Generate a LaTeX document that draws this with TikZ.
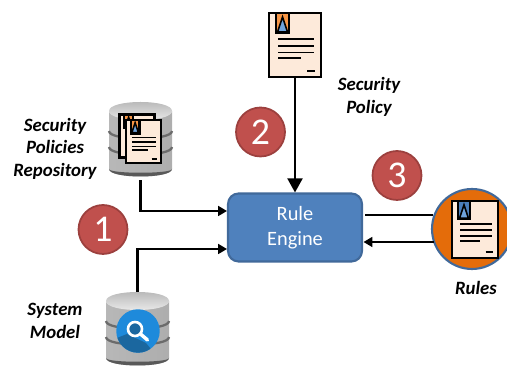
\documentclass[tikz,border=0pt]{standalone}
\usepackage{fontspec}
\setmainfont{Carlito}
\usetikzlibrary{arrows.meta}
\definecolor{enginefill}{HTML}{4F81BD}
\definecolor{engineedge}{HTML}{41699A}
\definecolor{badgefill}{HTML}{C0504D}
\definecolor{badgeedge}{HTML}{9C403E}
\definecolor{pagefill}{HTML}{FDEADA}
\definecolor{tagorange}{HTML}{F79646}
\definecolor{tagblue}{HTML}{6FA3DC}
\definecolor{tagdark}{HTML}{4A7EBB}
\definecolor{rulesfill}{HTML}{E46C0A}
\definecolor{lensblue}{HTML}{1E8ADB}
\definecolor{lensdark}{HTML}{1B679F}
\tikzset{
  flow/.style={draw=black, line width=1.3pt, -{Triangle[length=5pt,width=5.5pt]}},
  flowbig/.style={draw=black, line width=1.3pt, -{Triangle[length=8pt,width=8.5pt]}},
  plainflow/.style={draw=black, line width=1.4pt},
  enginebox/.style={draw=engineedge, fill=enginefill, line width=1.2pt, rounded corners=6pt,
    minimum width=2.68cm, minimum height=1.36cm, align=center, text=white, font=\fontsize{11.6}{14.4}\selectfont},
  badge/.style={circle, draw=badgeedge, fill=badgefill, line width=1pt, minimum size=0.98cm, inner sep=0pt,
    text=white, font=\fontsize{21.5}{21.5}\selectfont},
  caption/.style={align=center, font=\fontsize{10.7}{12.8}\selectfont\bfseries\itshape},
  page/.style={draw=black, fill=pagefill, line width=1.3pt, inner sep=0pt},
  dbbox/.style={inner sep=0pt, minimum width=1.26cm},
}
% page with bookmark: name, x, y, scale, tag colour, triangle colour
\newcommand{\policydoc}[6]{
  \node[page, minimum width=#4*1.04cm, minimum height=#4*1.28cm] (#1) at (#2,#3) {};
  \begin{scope}[shift={(#2,#3)}, scale=#4]
    \draw[fill=#5, line width=1.2pt] (-19,-32) rectangle (-6,-12);
    \draw[fill=#6, line width=0.9pt] (-17.5,-13) -- (-12.5,-28) -- (-7.5,-13) -- cycle;
    \draw[line width=1pt] (-17,-6) -- (19,-6);
    \draw[line width=1pt] (-17,0.7) -- (19,0.7);
    \draw[line width=1pt] (-17,7.5) -- (19,7.5);
    \draw[line width=1pt] (-17,13) -- (6,13);
    \draw[line width=1pt] (12,26) -- (20,26);
  \end{scope}
}
% database can: centre x, top y, bottom y, half width
\newcommand{\dbcan}[4]{
  \shade[left color=black!28, middle color=black!2, right color=black!32]
    (#1-#4,#2+9) -- (#1-#4,#3-8) .. controls (#1-#4,#3+2) and (#1+#4,#3+2) .. (#1+#4,#3-8) -- (#1+#4,#2+9)
    .. controls (#1+#4,#2+20) and (#1-#4,#2+20) .. (#1-#4,#2+9);
  \shade[left color=black!65, middle color=black!25, right color=black!65]
    (#1-#4,#3-8) .. controls (#1-#4,#3+2) and (#1+#4,#3+2) .. (#1+#4,#3-8)
    .. controls (#1+#4,#3-3) and (#1-#4,#3-3) .. (#1-#4,#3-8);
  \shade[top color=black!30, bottom color=black!6]
    (#1-#4,#2+9) .. controls (#1-#4,#2-3) and (#1+#4,#2-3) .. (#1+#4,#2+9)
    .. controls (#1+#4,#2+21) and (#1-#4,#2+21) .. (#1-#4,#2+9);
  \draw[black!58, line width=1.3pt] (#1-#4,#2+29) .. controls (#1-#4,#2+39) and (#1+#4,#2+39) .. (#1+#4,#2+29);
  \draw[black!58, line width=1.3pt] (#1-#4,#2+45) .. controls (#1-#4,#2+55) and (#1+#4,#2+55) .. (#1+#4,#2+45);
}
\begin{document}
\begin{tikzpicture}[x=0.02cm,y=-0.02cm]
  \useasboundingbox (0,0) rectangle (507,367);

  % main box and numbers
  \node[enginebox] (engine) at (295,227.5) {\raisebox{-1pt}{Rule}\\\raisebox{-1pt}{Engine}};
  \node[badge] (one) at (103,229.5) {1};
  \node[badge] (two) at (260.5,132) {2};
  \node[badge] (three) at (397,175.5) {3};

  % policy repository
  \node[dbbox, minimum height=1.56cm] (repodb) at (140.5,141) {};
  \dbcan{140.5}{102}{177}{31.5}
  \policydoc{repoback}{137}{136}{0.67}{tagorange}{tagblue}
  \policydoc{repofront}{143.5}{141.5}{0.67}{tagorange}{tagblue}

  % system model
  \node[dbbox, minimum height=1.46cm] (modeldb) at (137.5,328.5) {};
  \dbcan{137.5}{292}{366}{31.5}
  \node[circle, fill=lensblue, minimum size=0.87cm, inner sep=0pt] (lens) at (138,331) {};
  \begin{scope}
    \clip (138,331) circle [radius=21.7];
    \fill[lensdark] (127,334) -- (146,343) -- (160,360) -- (110,360) -- (112,340) -- cycle;
  \end{scope}
  \draw[white, fill=lensdark, line width=1.5pt] (135,329) circle [radius=7];
  \draw[white, line width=2pt, line cap=round] (140.5,334) -- (147.5,340);

  % security policy
  \policydoc{secpolicy}{295}{45}{1}{tagorange}{tagblue}

  % rules
  \node[circle, draw=engineedge, fill=rulesfill, line width=1.2pt, minimum size=1.6cm, inner sep=0pt] (rules) at (472,229) {};
  \policydoc{rulesdoc}{475}{229.5}{0.88}{tagdark}{tagblue}

  % connectors
  \coordinate (enginein1) at (227,211);
  \coordinate (enginein2) at (227,249);
  \coordinate (engineout) at (365,215);
  \coordinate (enginein3) at (363.5,242);
  \coordinate (rulesout1) at (432.5,215);
  \coordinate (rulesout2) at (434,242);
  \draw[flow] (repodb.south) |- (enginein1);
  \draw[flow] (modeldb.north) |- (enginein2);
  \draw[flowbig] (secpolicy.south) -- (engine.north);
  \draw[plainflow] (engineout) -- (rulesout1);
  \draw[flow] (rulesout2) -- (enginein3);

  % captions
  \node[caption] (repolabel) at (55,148.5) {Security\\Policies\\Repository};
  \node[caption] (modellabel) at (55,321) {System\\Model};
  \node[caption] (policylabel) at (369,97) {Security\\Policy};
  \node[caption] (ruleslabel) at (476,288) {Rules};
\end{tikzpicture}
\end{document}
